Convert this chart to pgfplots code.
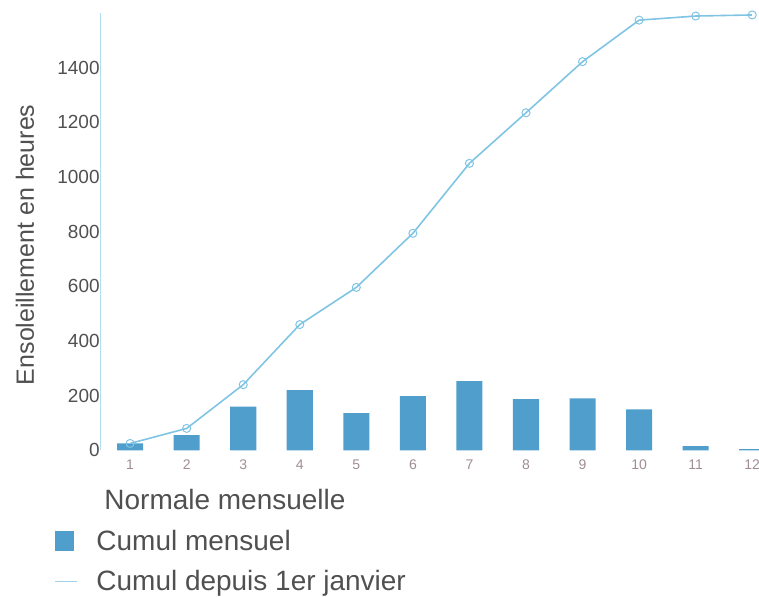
\documentclass[border=0pt]{standalone}
\usepackage{pgfplots}
\pgfplotsset{compat=1.18}
\usepackage{fontspec}
\setmainfont{Liberation Sans}

\definecolor{barblue}{RGB}{80,158,203}
\definecolor{lineblue}{RGB}{128,196,228}
\definecolor{txt}{RGB}{80,80,80}
\definecolor{ticktxt}{RGB}{160,140,150}

\begin{document}
\begin{tikzpicture}[trim axis right]
\begin{axis}[
    scale only axis,
    width=657bp, height=436bp,
    xmin=0.47, xmax=12.12,
    ymin=0, ymax=1600,
    clip=false,
    axis line style={draw=none},
    major tick length=0pt,
    xtick={1,...,12},
    ytick={0,200,...,1400},
    /pgf/number format/assume math mode=true,
    /pgf/number format/1000 sep={},
    yticklabel style={font=\fontsize{19}{19}\selectfont, text=txt, xshift=3bp},
    xticklabel style={font=\fontsize{14}{14}\selectfont, text=ticktxt, yshift=-6bp},
    ylabel={Ensoleillement en heures},
    ylabel style={font=\fontsize{25}{25}\selectfont, text=txt,
        at={(axis description cs:-0.114,0.47)}, anchor=center},
    legend style={draw=none, fill=none, at={(axis description cs:-0.075,-0.079)},
        anchor=north west, font=\fontsize{28}{28}\selectfont, text=txt,
        row sep=15bp, legend cell align=left,
        /tikz/every odd column/.append style={column sep=17bp}},
]
\draw[lineblue!60] (rel axis cs:0,0) -- (rel axis cs:0,1);
% room left of the label and above the top, as in the reference
\path (rel axis cs:-0.152,0) -- (axis cs:1,1600) ++(0,13bp);

\addlegendimage{empty legend}
\addlegendentry{\hspace*{8bp}Normale mensuelle}

% cumul mensuel (heures)
\addplot[ybar, bar width=26bp, fill=barblue, draw=none,
    legend image code/.code={\fill[barblue] (0.05cm,-0.35cm) rectangle (0.72cm,0.33cm);}]
coordinates {
    (1,25) (2,55) (3,160) (4,220) (5,136) (6,198)
    (7,253) (8,187) (9,190) (10,150) (11,15) (12,4)
};
\addlegendentry{Cumul mensuel}

% cumul depuis le 1er janvier
\addplot[lineblue, line width=1.6pt, mark=o,
    mark options={fill=white, line width=1pt}, mark size=4bp,
    legend image code/.code={\draw[lineblue!75, line width=1.5pt] (0.05cm,0cm) -- (0.8cm,0cm);}]
coordinates {
    (1,25) (2,80) (3,240) (4,460) (5,596) (6,794)
    (7,1050) (8,1235) (9,1422) (10,1574) (11,1589) (12,1593)
};
\addlegendentry{Cumul depuis 1er janvier}
\end{axis}
\end{tikzpicture}
\end{document}
